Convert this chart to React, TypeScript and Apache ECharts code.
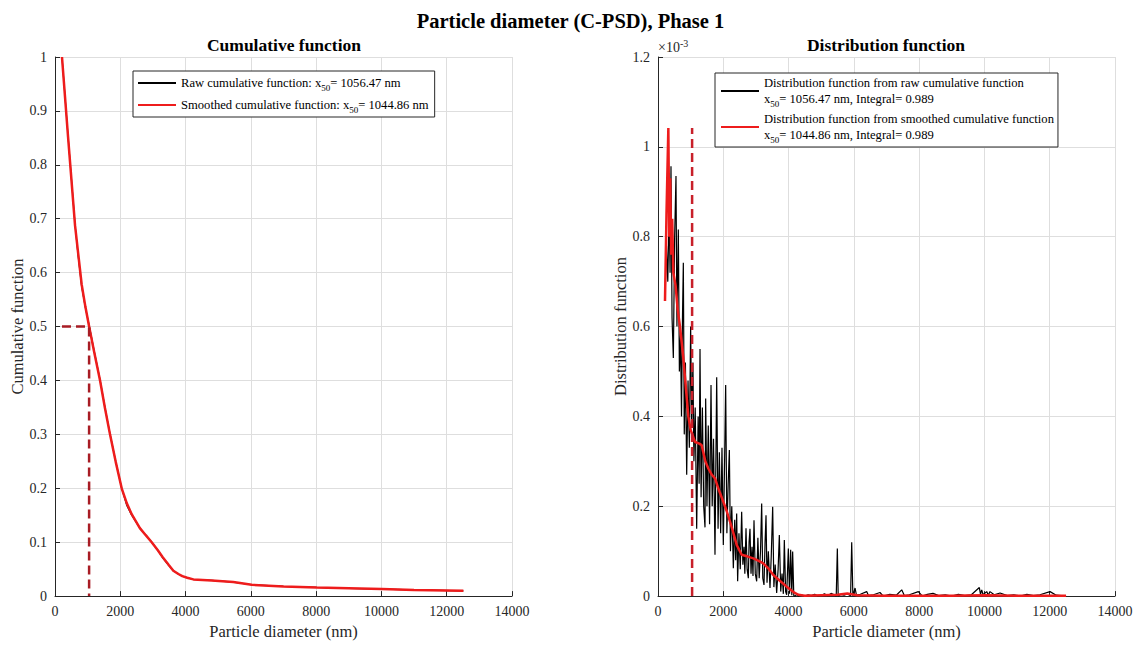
import React, { useEffect, useRef } from 'react';
import * as echarts from 'echarts';

// ---------- data ----------
const mainTitle = 'Particle diameter (C-PSD), Phase 1';
const leftTitle = 'Cumulative function';
const rightTitle = 'Distribution function';
const xName = 'Particle diameter (nm)';
const leftYName = 'Cumulative function';
const rightYName = 'Distribution function';

const x50Raw = 1056.47;
const x50Smooth = 1044.86;
const integralRaw = 0.989;
const integralSmooth = 0.989;
const cumStartX = 214;
const cumAtX50 = 0.5;
const distPeak = 1.042; // ×10^-3

// Cumulative function (raw)
const cumRaw: [number, number][] = [
  [214, 1.0], [400, 0.853], [613, 0.69], [700, 0.636], [817, 0.574], [930, 0.535], [1056, 0.5],
  [1200, 0.455], [1380, 0.401], [1530, 0.35], [1685, 0.301], [1860, 0.25], [2043, 0.2],
  [2200, 0.168], [2349, 0.15], [2600, 0.126], [2780, 0.113], [2962, 0.1], [3150, 0.085],
  [3300, 0.071], [3480, 0.057], [3625, 0.047], [3780, 0.041], [3900, 0.037], [4050, 0.034],
  [4238, 0.031], [4800, 0.029], [5460, 0.026], [6026, 0.021], [7000, 0.018], [8017, 0.016],
  [9000, 0.0145], [10008, 0.013], [11000, 0.0115], [12510, 0.0098],
];

// Cumulative function (smoothed)
const cumSmooth: [number, number][] = [
  [214, 1.0], [400, 0.852], [613, 0.688], [817, 0.578], [930, 0.537], [1045, 0.5], [1200, 0.453],
  [1380, 0.4], [1530, 0.349], [1685, 0.3], [1860, 0.249], [2043, 0.2], [2200, 0.172],
  [2349, 0.152], [2600, 0.126], [2780, 0.113], [2962, 0.1], [3150, 0.085], [3300, 0.072],
  [3480, 0.058], [3625, 0.047], [3780, 0.041], [3900, 0.037], [4050, 0.034], [4238, 0.031],
  [4800, 0.029], [5460, 0.026], [6026, 0.021], [7000, 0.018], [8017, 0.016], [9000, 0.0145],
  [10008, 0.013], [11000, 0.0115], [12510, 0.0098],
];

// Distribution function from raw cumulative function (×10^-3)
const distRaw: [number, number][] = [
  [214, 0.66], [260, 0.78], [300, 0.7], [340, 0.86], [370, 0.72], [398, 0.957], [430, 0.62],
  [470, 0.53], [510, 0.8], [551, 0.935], [580, 0.6], [623, 0.816], [655, 0.5], [690, 0.58],
  [720, 0.4], [750, 0.62], [776, 0.742], [805, 0.36], [840, 0.52], [879, 0.27], [920, 0.48],
  [960, 0.33], [1000, 0.6], [1032, 0.38], [1070, 0.52], [1100, 0.3], [1140, 0.42], [1185, 0.15],
  [1230, 0.4], [1260, 0.25], [1287, 0.55], [1320, 0.22], [1360, 0.42], [1400, 0.2], [1440, 0.153],
  [1460, 0.44], [1500, 0.2], [1540, 0.38], [1580, 0.16], [1624, 0.47], [1660, 0.2], [1700, 0.35],
  [1746, 0.092], [1798, 0.487], [1840, 0.15], [1880, 0.32], [1920, 0.14], [1960, 0.33],
  [2001, 0.114], [2040, 0.3], [2073, 0.47], [2110, 0.14], [2150, 0.25], [2186, 0.325], [2220, 0.1],
  [2260, 0.2], [2308, 0.062], [2350, 0.17], [2380, 0.08], [2410, 0.184], [2440, 0.033],
  [2480, 0.14], [2520, 0.06], [2563, 0.188], [2600, 0.07], [2635, 0.11], [2660, 0.05],
  [2696, 0.151], [2730, 0.06], [2767, 0.04], [2790, 0.12], [2818, 0.15], [2850, 0.05],
  [2880, 0.11], [2910, 0.045], [2941, 0.169], [2980, 0.05], [3023, 0.033], [3060, 0.13],
  [3100, 0.04], [3140, 0.1], [3176, 0.206], [3210, 0.04], [3247, 0.025], [3280, 0.12],
  [3309, 0.18], [3340, 0.03], [3380, 0.1], [3431, 0.018], [3470, 0.09], [3513, 0.199],
  [3550, 0.02], [3590, 0.07], [3635, 0.007], [3680, 0.06], [3717, 0.136], [3760, 0.01],
  [3800, 0.05], [3840, 0.005], [3870, 0.125], [3910, 0.01], [3942, 0.003], [3993, 0.106],
  [4030, 0.005], [4064, 0.103], [4100, 0.002], [4125, 0.099], [4160, 0.001], [4197, 0],
  [4260, 0.004], [4300, 0], [4400, 0.002], [4500, 0], [4600, 0.003], [4700, 0.001], [4800, 0.004],
  [4900, 0], [5000, 0.002], [5100, 0.005], [5200, 0.001], [5300, 0.006], [5400, 0.003],
  [5460, 0], [5494, 0.106], [5520, 0], [5600, 0.004], [5700, 0.002], [5800, 0.005], [5900, 0.001],
  [5934, 0.12], [5970, 0], [6036, 0.018], [6080, 0.002], [6200, 0.004], [6393, 0.01],
  [6450, 0.001], [6600, 0.003], [6800, 0.008], [6900, 0], [7100, 0.004], [7300, 0.002],
  [7466, 0.014], [7550, 0.001], [7700, 0.003], [7976, 0.01], [8100, 0], [8250, 0.004],
  [8425, 0.006], [8600, 0.001], [8800, 0.003], [9000, 0], [9200, 0.004], [9400, 0.001],
  [9600, 0.003], [9844, 0.019], [9880, 0.004], [9917, 0.014], [9960, 0.003], [10070, 0.01],
  [10120, 0.002], [10170, 0.01], [10300, 0.003], [10478, 0.007], [10700, 0.001], [10900, 0.003],
  [11100, 0], [11300, 0.004], [11500, 0.001], [11700, 0.003], [12010, 0.01], [12200, 0.002],
  [12500, 0],
];

// Distribution function from smoothed cumulative function (×10^-3)
const distSmooth: [number, number][] = [
  [214, 0.657], [260, 0.85], [317, 1.042], [345, 0.8], [375, 0.93], [405, 0.76], [435, 0.84],
  [470, 0.72], [541, 0.69], [600, 0.64], [674, 0.6], [776, 0.53], [870, 0.45], [929, 0.4],
  [1000, 0.37], [1134, 0.343], [1250, 0.34], [1338, 0.336], [1450, 0.3], [1542, 0.284],
  [1650, 0.27], [1746, 0.262], [1870, 0.235], [2001, 0.21], [2100, 0.19], [2206, 0.166],
  [2310, 0.14], [2410, 0.114], [2563, 0.092], [2750, 0.088], [2920, 0.084], [3100, 0.078],
  [3226, 0.073], [3400, 0.06], [3533, 0.047], [3750, 0.033], [3942, 0.021], [4150, 0.009],
  [4299, 0.003], [4500, 0.001], [5000, 0.002], [5500, 0.003], [5800, 0.006], [6100, 0.002],
  [7000, 0.001], [8000, 0.001], [9000, 0.001], [10000, 0.002], [11000, 0.001], [12500, 0.001],
];

const xMin = 0, xMax = 14000, xStep = 2000;
const cumMin = 0, cumMax = 1, cumStep = 0.1;
const distMin = 0, distMax = 1.2, distStep = 0.2;

// ---------- styling ----------
const FONT = "'Liberation Serif', 'Times New Roman', serif";
const INK = '#262626';
const RED = '#ee1c1c';

const nameRawCum = 'Raw cumulative function';
const nameSmoothCum = 'Smoothed cumulative function';
const nameRawDist = 'Distribution function from raw cumulative function';
const nameSmoothDist = 'Distribution function from smoothed cumulative function';

const legendText: Record<string, string> = {
  [nameRawCum]: `Raw cumulative function: x{sub|50}= ${x50Raw.toFixed(2)} nm`,
  [nameSmoothCum]: `Smoothed cumulative function: x{sub|50}= ${x50Smooth.toFixed(2)} nm`,
  [nameRawDist]: `${nameRawDist}\nx{sub|50}= ${x50Raw.toFixed(2)} nm, Integral= ${integralRaw}`,
  [nameSmoothDist]: `${nameSmoothDist}\nx{sub|50}= ${x50Smooth.toFixed(2)} nm, Integral= ${integralSmooth}`,
};

const axisCommon = {
  axisLine: { show: true, onZero: false, lineStyle: { color: INK, width: 1 } },
  axisTick: { show: true, inside: true, length: 5, lineStyle: { color: INK } },
  axisLabel: { color: INK, fontFamily: FONT, fontSize: 14, formatter: (v: number) => String(v) },
  splitLine: { show: true, lineStyle: { color: '#dedede', width: 1 } },
  nameTextStyle: { color: INK, fontFamily: FONT, fontSize: 16.5 },
};

const legendCommon = {
  orient: 'vertical' as const,
  backgroundColor: '#ffffff',
  borderColor: INK,
  borderWidth: 1,
  borderRadius: 0,
  itemWidth: 38,
  itemHeight: 12,
  itemStyle: { opacity: 0 },
  textStyle: {
    color: '#000',
    fontFamily: FONT,
    fontSize: 12.6,
    lineHeight: 16,
    rich: {
      sub: { fontFamily: FONT, fontSize: 9, lineHeight: 16, padding: [9, 0, 0, 0] },
    },
  },
  formatter: (n: string) => legendText[n] ?? n,
  selectedMode: false,
};

export default function App() {
  const ref = useRef<HTMLDivElement>(null);
  useEffect(() => {
    if (!ref.current) return;
    const chart = echarts.init(ref.current, undefined, { renderer: 'svg' });
    chart.setOption({
      animation: false,
      backgroundColor: '#ffffff',
      title: {
        text: mainTitle,
        left: 'center',
        top: 5,
        textStyle: { fontFamily: FONT, fontSize: 20.5, fontWeight: 'bold', color: '#000' },
      },
      grid: [
        { left: 55, top: 57, width: 457, height: 541 },
        { left: 658, top: 57, width: 457, height: 541 },
      ],
      xAxis: [
        { gridIndex: 0, type: 'value', min: xMin, max: xMax, interval: xStep, name: xName, nameLocation: 'middle', nameGap: 26, ...axisCommon },
        { gridIndex: 1, type: 'value', min: xMin, max: xMax, interval: xStep, name: xName, nameLocation: 'middle', nameGap: 26, ...axisCommon },
      ],
      yAxis: [
        { gridIndex: 0, type: 'value', min: cumMin, max: cumMax, interval: cumStep, name: leftYName, nameLocation: 'middle', nameGap: 29, ...axisCommon },
        { gridIndex: 1, type: 'value', min: distMin, max: distMax, interval: distStep, name: rightYName, nameLocation: 'middle', nameGap: 29, ...axisCommon },
      ],
      legend: [
        { ...legendCommon, data: [nameRawCum, nameSmoothCum], left: 133, top: 71, padding: [3, 6, 3, 4], itemGap: 4 },
        { ...legendCommon, data: [nameRawDist, nameSmoothDist], left: 715, top: 73, padding: [2, 4, 3, 5], itemGap: 3 },
      ],
      graphic: [
        { type: 'text', style: { text: leftTitle, x: 284, y: 36, align: 'center', fontFamily: FONT, fontSize: 17.5, fontWeight: 'bold', fill: '#000' } },
        { type: 'text', style: { text: rightTitle, x: 886, y: 36, align: 'center', fontFamily: FONT, fontSize: 17.5, fontWeight: 'bold', fill: '#000' } },
        { type: 'text', style: { text: '×10{sup|-3}', x: 658, y: 38, fontFamily: FONT, fontSize: 14, fill: INK, rich: { sup: { fontFamily: FONT, fontSize: 10, padding: [0, 0, 9, 0] } } } },
      ],
      series: [
        { name: nameRawCum, type: 'line', xAxisIndex: 0, yAxisIndex: 0, data: cumRaw, symbol: 'none', lineStyle: { color: '#000', width: 1.2 }, itemStyle: { color: '#000' }, z: 2 },
        { name: nameSmoothCum, type: 'line', xAxisIndex: 0, yAxisIndex: 0, data: cumSmooth, symbol: 'none', lineStyle: { color: RED, width: 2.5 }, itemStyle: { color: RED }, z: 3 },
        { name: 'x50 cumulative', type: 'line', xAxisIndex: 0, yAxisIndex: 0, data: [[cumStartX, cumAtX50], [x50Smooth, cumAtX50], [x50Smooth, cumMin]], symbol: 'none', lineStyle: { color: '#a81c24', width: 2.5, type: [9, 5] }, z: 4 },
        { name: nameRawDist, type: 'line', xAxisIndex: 1, yAxisIndex: 1, data: distRaw, symbol: 'none', lineStyle: { color: '#000', width: 1.2 }, itemStyle: { color: '#000' }, z: 2 },
        { name: nameSmoothDist, type: 'line', xAxisIndex: 1, yAxisIndex: 1, data: distSmooth, symbol: 'none', lineStyle: { color: RED, width: 2.5 }, itemStyle: { color: RED }, z: 3 },
        { name: 'x50 distribution', type: 'line', xAxisIndex: 1, yAxisIndex: 1, data: [[x50Smooth, distMin], [x50Smooth, distPeak]], symbol: 'none', lineStyle: { color: '#c8202a', width: 2.5, type: [9, 5] }, z: 4 },
      ],
    });
    return () => chart.dispose();
  }, []);
  return <div ref={ref} style={{ position: 'fixed', left: 0, top: 0, width: 1141, height: 645 }} />;
}
